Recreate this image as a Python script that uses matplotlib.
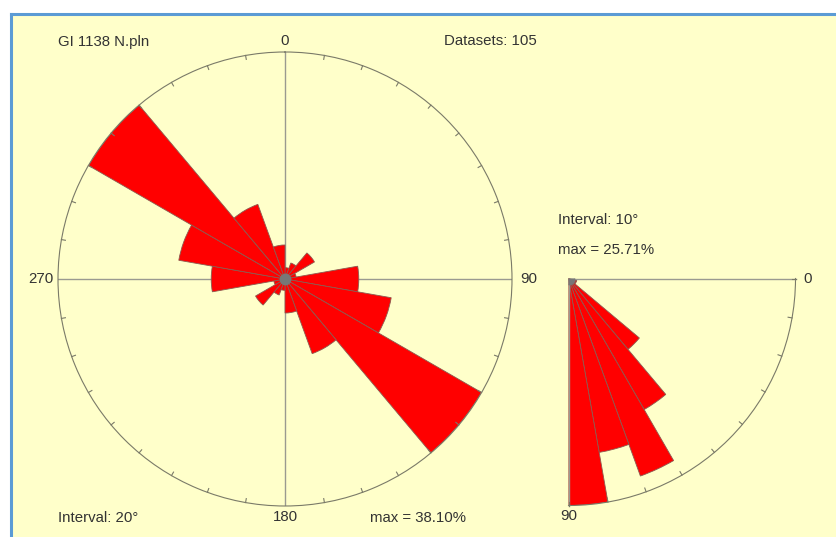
import numpy as np
import matplotlib.pyplot as plt

plt.rcParams['font.family'] = ['Liberation Sans', 'DejaVu Sans']

# strike directions, 20 deg classes over 0-180 (the rose is mirrored)
strike_bins = [0, 20, 40, 60, 80, 100, 120, 140, 160]
strike_pct = [1.90, 2.86, 5.71, 1.90, 12.38, 18.10, 38.10, 13.33, 5.71]

# dip angles, 10 deg classes
dip_bins = [0, 10, 20, 30, 40, 50, 60, 70, 80]
dip_pct = [0.0, 0.95, 0.95, 0.95, 10.48, 17.14, 23.81, 20.00, 25.71]

file_name = 'GI 1138 N.pln'
n_datasets = 105

W, H = 836, 537
bg_col = '#FFFFCA'
arc_col = '#7a7a68'
cross_col = '#9a9a90'
txt_col = '#333333'
petal_col = '#FF0000'
edge_col = '#8c5a50'
tick_px = 4


def fx(px):
    return px / W


def fy(py):
    return 1 - py / H


def arc_ticks(axis, degs, rmax, radius_px):
    # short inward marks on the outer circle
    inner = rmax * (1 - tick_px / radius_px)
    for d in degs:
        t = np.deg2rad(d)
        axis.plot([t, t], [inner, rmax], color=arc_col, lw=0.8, zorder=4, clip_on=False)


fig = plt.figure(figsize=(W / 100, H / 100), dpi=100, facecolor='white')

# yellow panel with a blue line on the left and top
fig.add_artist(plt.Rectangle((fx(11), 0), 1 - fx(11), fy(13.5), transform=fig.transFigure,
                             facecolor=bg_col, edgecolor='none', zorder=-10))
fig.add_artist(plt.Line2D([fx(11), fx(11)], [0, fy(13.5)], color='#5B9BD5', lw=2.2))
fig.add_artist(plt.Line2D([fx(11), 1], [fy(13.5), fy(13.5)], color='#5B9BD5', lw=2.2))

# --- strike rose ---
cx, cy, R = 285, 279, 227
ax = fig.add_axes([fx(cx - R), fy(cy + R), 2 * R / W, 2 * R / H], projection='polar')
ax.set_facecolor('none')
ax.set_theta_zero_location('N')
ax.set_theta_direction(-1)

theta = np.deg2rad(np.array(strike_bins) + 10)
theta = np.concatenate([theta, theta + np.pi])
radii = np.concatenate([strike_pct, strike_pct])
smax = max(strike_pct)

for t in [0, 90, 180, 270]:
    ax.plot([np.deg2rad(t)] * 2, [0, smax], color=cross_col, lw=1, zorder=1)
ax.bar(theta, radii, width=np.deg2rad(20), color=petal_col, edgecolor=edge_col,
       linewidth=0.6, zorder=2)
ax.plot(0, 0, 'o', ms=7.5, color='#777777', zorder=3)

ax.set_ylim(0, smax)
ax.set_yticks([])
ax.set_xticks([])
ax.grid(False)
ax.spines['polar'].set_color(arc_col)
ax.spines['polar'].set_linewidth(0.8)
arc_ticks(ax, [d for d in range(0, 360, 10) if d % 90], smax, R)

ax.text(0, smax * 1.048, '0', ha='center', va='center', fontsize=10.8, color=txt_col)
ax.text(np.pi / 2, smax * 1.035, '90', ha='left', va='center', fontsize=10.8, color=txt_col)
ax.text(np.pi, smax * 1.048, '180', ha='center', va='center', fontsize=10.8, color=txt_col)
ax.text(3 * np.pi / 2, smax * 1.02, '270', ha='right', va='center', fontsize=10.8, color=txt_col)

fig.text(fx(58), fy(42), file_name, ha='left', va='center', fontsize=10.8, color=txt_col)
fig.text(fx(537), fy(41), f'Datasets: {n_datasets}', ha='right', va='center', fontsize=10.8, color=txt_col)
fig.text(fx(58), fy(518), 'Interval: 20°', ha='left', va='center', fontsize=10.8, color=txt_col)
fig.text(fx(466), fy(518), f'max = {smax:.2f}%', ha='right', va='center', fontsize=10.8, color=txt_col)

# --- dip quarter rose ---
dcx, dcy = 568.5, 278.5
ax2 = fig.add_axes([fx(dcx), fy(dcy + R), R / W, R / H], projection='polar')
ax2.set_facecolor('none')
ax2.set_theta_zero_location('E')
ax2.set_theta_direction(-1)
ax2.set_thetamin(0)
ax2.set_thetamax(90)

dmax = max(dip_pct)
ax2.bar(np.deg2rad(np.array(dip_bins) + 5), dip_pct, width=np.deg2rad(10), color=petal_col,
        edgecolor=edge_col, linewidth=0.6, zorder=2)
ax2.plot(0, 0, 'o', ms=7.5, color='#777777', zorder=3)

ax2.set_ylim(0, dmax)
ax2.set_yticks([])
ax2.set_xticks([])
ax2.grid(False)
ax2.spines['polar'].set_color(arc_col)
ax2.spines['polar'].set_linewidth(0.8)
for s in ['start', 'end']:
    ax2.spines[s].set_color(cross_col)
    ax2.spines[s].set_linewidth(1)
ax2.spines['inner'].set_visible(False)
arc_ticks(ax2, range(0, 91, 10), dmax, R)

ax2.text(0, dmax * 1.035, '0', ha='left', va='center', fontsize=10.8, color=txt_col)
ax2.text(np.pi / 2, dmax * 1.045, '90', ha='center', va='center', fontsize=10.8, color=txt_col)

fig.text(fx(558), fy(220), 'Interval: 10°', ha='left', va='center', fontsize=10.8, color=txt_col)
fig.text(fx(558), fy(250), f'max = {dmax:.2f}%', ha='left', va='center', fontsize=10.8, color=txt_col)

fig.savefig('out.png', dpi=100, facecolor=fig.get_facecolor())
